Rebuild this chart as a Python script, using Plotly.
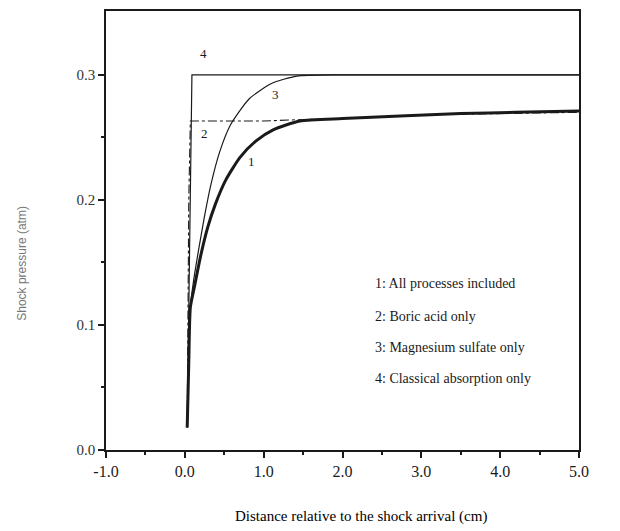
import plotly.graph_objects as go

# Curve 1: all processes included
x1 = [0.03, 0.05, 0.07, 0.12, 0.20, 0.29, 0.39, 0.52, 0.70, 0.90, 1.12, 1.46, 2.0, 2.73, 3.5, 4.2, 5.0]
y1 = [0.018, 0.07, 0.114, 0.130, 0.155, 0.178, 0.197, 0.216, 0.234, 0.247, 0.256, 0.263, 0.265, 0.267, 0.269, 0.270, 0.271]
# Curve 2: boric acid only
x2 = [0.03, 0.05, 0.07, 0.5, 1.0, 1.4, 2.0, 3.0, 4.0, 5.0]
y2 = [0.018, 0.20, 0.263, 0.263, 0.263, 0.264, 0.265, 0.268, 0.269, 0.270]
# Curve 3: magnesium sulfate only
x3 = [0.03, 0.05, 0.07, 0.11, 0.18, 0.25, 0.33, 0.44, 0.58, 0.82, 1.10, 1.42, 2.0, 5.0]
y3 = [0.018, 0.07, 0.114, 0.135, 0.162, 0.187, 0.212, 0.238, 0.260, 0.281, 0.293, 0.299, 0.300, 0.300]
# Curve 4: classical absorption only
x4 = [0.03, 0.05, 0.09, 5.0]
y4 = [0.018, 0.12, 0.300, 0.300]

legend_lines = ["1: All processes included", "2: Boric acid only",
                "3: Magnesium sulfate only", "4: Classical absorption only"]
legend_y = [0.133, 0.107, 0.082, 0.057]
curve_labels = ["1", "2", "3", "4"]
curve_label_x = [0.84, 0.25, 1.15, 0.24]
curve_label_y = [0.231, 0.253, 0.284, 0.317]

xticks = [-1.0, 0.0, 1.0, 2.0, 3.0, 4.0, 5.0]
yticks = [0.0, 0.1, 0.2, 0.3]

ink = "#1a1a1a"
serif = "Liberation Serif"

fig = go.Figure()
fig.add_trace(go.Scatter(x=x4, y=y4, mode="lines", line=dict(color=ink, width=1.2), showlegend=False))
fig.add_trace(go.Scatter(x=x3, y=y3, mode="lines", line=dict(color=ink, width=1.2, shape="spline", smoothing=0.6), showlegend=False))
fig.add_trace(go.Scatter(x=x2, y=y2, mode="lines", line=dict(color=ink, width=1.1, dash="dashdot"), showlegend=False))
fig.add_trace(go.Scatter(x=x1, y=y1, mode="lines", line=dict(color=ink, width=3, shape="spline", smoothing=0.6), showlegend=False))

for t, yy in zip(legend_lines, legend_y):
    fig.add_annotation(x=2.39, y=yy, text=t, showarrow=False, xanchor="left", yanchor="middle",
                       font=dict(family=serif, size=14, color=ink))
for t, xx, yy in zip(curve_labels, curve_label_x, curve_label_y):
    fig.add_annotation(x=xx, y=yy, text=t, showarrow=False, xanchor="center", yanchor="middle",
                       font=dict(family=serif, size=13, color=ink))

fig.add_annotation(xref="paper", yref="paper", x=0.539, y=-0.152, text="Distance relative to the shock arrival (cm)",
                   showarrow=False, xanchor="center", yanchor="middle", font=dict(family=serif, size=15, color="#000"))
fig.add_annotation(xref="paper", yref="paper", x=-0.178, y=0.426, text="Shock pressure (atm)", textangle=-90,
                   showarrow=False, xanchor="center", yanchor="middle", font=dict(family="Liberation Sans", size=12, color="#777"))

fig.update_xaxes(range=[-1.0, 5.0], tickvals=xticks, ticktext=[f"{v:.1f}" for v in xticks],
                 ticks="outside", ticklen=6, tickwidth=1.5, tickcolor=ink,
                 minor=dict(tickvals=[-0.5, 0.5, 1.5, 2.5, 3.5, 4.5], ticks="outside", ticklen=3, tickcolor=ink),
                 showline=True, linecolor=ink, linewidth=1.5, mirror=True, showgrid=False, zeroline=False,
                 tickfont=dict(family=serif, size=16, color=ink))
fig.update_yaxes(range=[0.0, 0.351], tickvals=yticks, ticktext=[f"{v:.1f}" for v in yticks],
                 ticks="outside", ticklen=6, tickwidth=1.5, tickcolor=ink,
                 minor=dict(tickvals=[0.05, 0.15, 0.25], ticks="outside", ticklen=3, tickcolor=ink),
                 showline=True, linecolor=ink, linewidth=1.5, mirror=True, showgrid=False, zeroline=False,
                 tickfont=dict(family=serif, size=15, color="#333"))

fig.update_layout(width=620, height=531, margin=dict(l=106, r=41, t=9, b=81),
                  paper_bgcolor="white", plot_bgcolor="white")
fig.write_html("out.html")
